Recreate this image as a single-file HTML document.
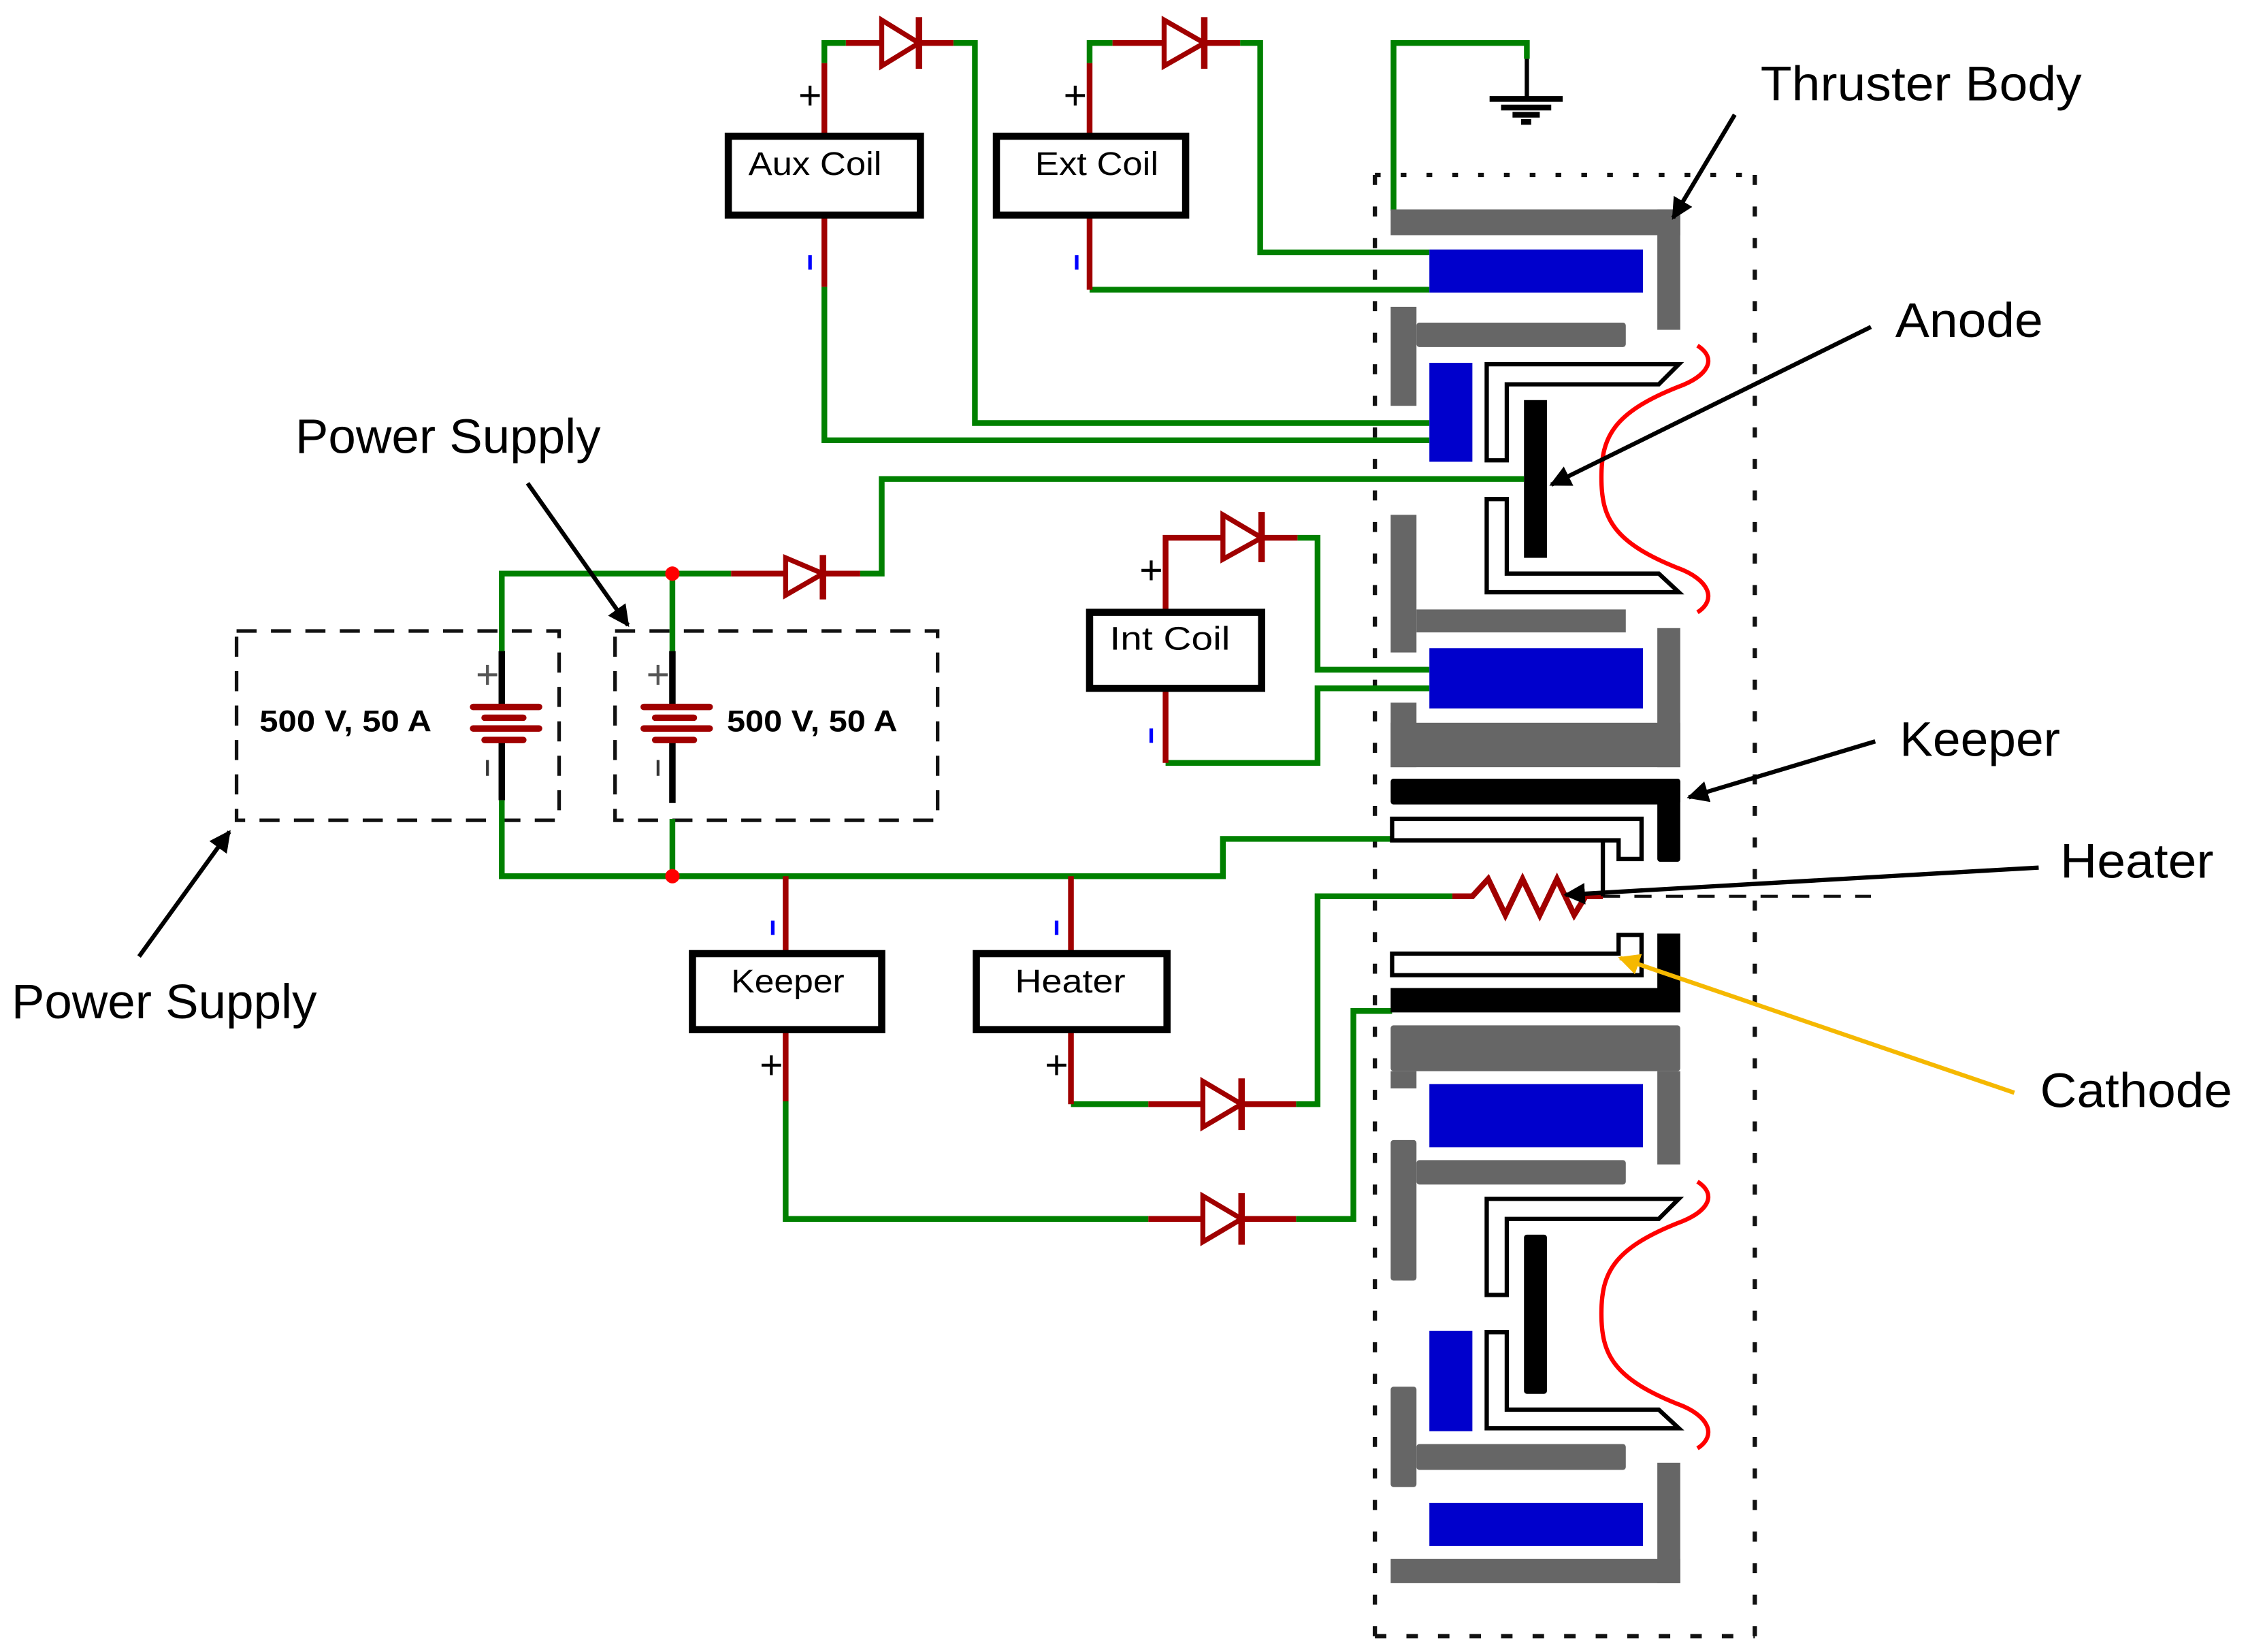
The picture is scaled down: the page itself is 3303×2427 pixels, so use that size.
<!DOCTYPE html>
<html><head><meta charset="utf-8"><style>html,body{margin:0;padding:0;background:#fff}svg{display:block}</style></head><body>
<svg width="3303" height="2427" viewBox="0 0 1568 1152" preserveAspectRatio="none" xmlns="http://www.w3.org/2000/svg">
<defs>
<marker id="ah" viewBox="0 0 10 10" refX="9" refY="5" markerWidth="5" markerHeight="5" orient="auto"><path d="M0,0 L10,5 L0,10 z" fill="#000"/></marker>
<marker id="ahy" viewBox="0 0 10 10" refX="9" refY="5" markerWidth="5" markerHeight="5" orient="auto"><path d="M0,0 L10,5 L0,10 z" fill="#f5b800"/></marker>
</defs>
<rect width="1568" height="1152" fill="#fff"/>
<g fill="none" stroke-linecap="butt">
<rect x="165" y="440" width="225" height="132" stroke="#111" stroke-width="2.5" stroke-dasharray="14,10"/>
<rect x="429" y="440" width="225" height="132" stroke="#111" stroke-width="2.5" stroke-dasharray="14,10"/>
<path d="M959,122 H1224" stroke="#111" stroke-width="3" stroke-dasharray="4,14"/>
<path d="M959,122 V1141 M1224,122 V1141" stroke="#111" stroke-width="3" stroke-dasharray="7,15"/>
<path d="M959,1141 H1224" stroke="#111" stroke-width="3" stroke-dasharray="8,14"/>
<path d="M1118,625 H1305" stroke="#111" stroke-width="2" stroke-dasharray="12,10"/>

<g stroke="#008000" stroke-width="4">
<path d="M972,147 V30 H1065 V41"/>
<path d="M575,44 V30 H590"/>
<path d="M665,30 H680 V295 H997"/>
<path d="M575,200 V307 H997"/>
<path d="M760,44 V30 H776"/>
<path d="M865,30 H879 V176 H997"/>
<path d="M760,202 H997"/>
<path d="M350,454 V400 H510"/>
<path d="M469,454 V400"/>
<path d="M600,400 H615 V334 H1063"/>
<path d="M905,375 H919 V467 H997"/>
<path d="M813,532 H919 V480 H997"/>
<path d="M350,558 V611 H853 V585 H971"/>
<path d="M469,571 V611"/>
<path d="M548,768 V850 H801"/>
<path d="M904,850 H944 V705 H971"/>
<path d="M747,770 H801"/>
<path d="M904,770 H919 V625 H1013"/>
</g>
<g stroke="#a00000" stroke-width="4">
<path d="M575,95 V44"/><path d="M590,30 H615"/><path d="M641,30 H665"/>
<path d="M575,151 V200"/>
<path d="M760,95 V44"/><path d="M776,30 H812"/><path d="M840,30 H865"/>
<path d="M760,151 V202"/>
<path d="M510,400 H548"/><path d="M574,400 H600"/>
<path d="M813,425 V375 H852"/><path d="M880,375 H905"/>
<path d="M813,481 V532"/>
<path d="M548,611 V663"/><path d="M548,720 V768"/>
<path d="M747,611 V663"/><path d="M747,720 V770"/>
<path d="M801,770 H839"/><path d="M866,770 H904"/>
<path d="M801,850 H839"/><path d="M866,850 H904"/>
<path d="M1013,625 H1027 L1038,613 L1050,638 L1062,613 L1074,638 L1086,613 L1098,638 L1106,625 H1118"/>
</g>
<g stroke="#a00000" stroke-width="3.5" fill="#fff">
<path d="M615,14 L641,30 L615,46 Z"/><path d="M641,12 V48" stroke-width="4.5"/>
<path d="M812,14 L840,30 L812,46 Z"/><path d="M840,12 V48" stroke-width="4.5"/>
<path d="M548,389 L574,400 L548,415 Z"/><path d="M574,387 V418" stroke-width="4.5"/>
<path d="M853,359 L880,375 L853,390 Z"/><path d="M880,357 V392" stroke-width="4.5"/>
<path d="M839,754 L866,770 L839,786 Z"/><path d="M866,752 V788" stroke-width="4.5"/>
<path d="M839,834 L866,850 L839,866 Z"/><path d="M866,832 V868" stroke-width="4.5"/>
</g>
<g stroke="#000" stroke-width="4.5">
<path d="M350,454 V493"/><path d="M350,516 V558"/>
<path d="M469,454 V493"/><path d="M469,516 V560"/>
</g>
<g stroke="#a00000" stroke-width="4.5" stroke-linecap="round">
<path d="M330,493 H376"/><path d="M338,500.5 H365"/><path d="M330,508 H376"/><path d="M338,516 H365"/>
<path d="M449,493 H495"/><path d="M457,500.5 H484"/><path d="M449,508 H495"/><path d="M457,516 H484"/>
</g>
<g stroke="#000">
<path d="M1065,41 V68" stroke-width="3"/>
<path d="M1039,69 H1090" stroke-width="4"/>
<path d="M1047,75 H1082" stroke-width="4"/>
<path d="M1055,80 H1074" stroke-width="4"/>
<path d="M1061,85 H1068" stroke-width="4"/>
</g>
<g stroke="#000" stroke-width="5" fill="#fff">
<rect x="508" y="95" width="134" height="55"/>
<rect x="695" y="95" width="132" height="55"/>
<rect x="760" y="427" width="120" height="53"/>
<rect x="483" y="665" width="132" height="53"/>
<rect x="681" y="665" width="133" height="53"/>
</g>
</g>
<circle cx="469" cy="400" r="5" fill="#f00"/>
<circle cx="469" cy="611" r="5" fill="#f00"/>

<g fill="#666">
<rect x="970" y="146" width="202" height="18"/><rect x="1156" y="146" width="16" height="84"/>
<rect x="970" y="214" width="18" height="69"/><rect x="988" y="225" width="146" height="17" rx="2"/>
<rect x="970" y="359" width="18" height="96"/><rect x="988" y="425" width="146" height="16"/>
<rect x="1156" y="438" width="16" height="97"/><rect x="970" y="504" width="202" height="31"/><rect x="970" y="490" width="18" height="45"/>
<rect x="970" y="715" width="202" height="32" rx="2"/><rect x="970" y="747" width="18" height="12"/><rect x="1156" y="747" width="16" height="65"/>
<rect x="970" y="795" width="18" height="98" rx="2"/><rect x="988" y="809" width="146" height="17" rx="2"/>
<rect x="970" y="967" width="18" height="70" rx="2"/><rect x="988" y="1007" width="146" height="18" rx="2"/>
<rect x="1156" y="1020" width="16" height="84"/><rect x="970" y="1087" width="202" height="17"/>
</g>
<g fill="#0000cc">
<rect x="997" y="174" width="149" height="30"/>
<rect x="997" y="253" width="30" height="69"/>
<rect x="997" y="452" width="149" height="42"/>
<rect x="997" y="756" width="149" height="44"/>
<rect x="997" y="928" width="30" height="70"/>
<rect x="997" y="1048" width="149" height="30"/>
</g>
<g fill="#fff" stroke="#000" stroke-width="3" stroke-linejoin="miter">
<path d="M1037,254 H1171 L1157,268 H1051 V321 H1037 Z"/>
<path d="M1037,348 H1051 V400 H1157 L1171,413 H1037 Z"/>
<path d="M1037,836 H1171 L1157,850 H1051 V903 H1037 Z"/>
<path d="M1037,929 H1051 V983 H1157 L1171,996 H1037 Z"/>
<path d="M971,571 H1145 V599 H1129 V586 H971 Z"/>
<path d="M971,665 H1129 V652 H1145 V680 H971 Z"/>
</g>
<g fill="#000">
<rect x="1063" y="279" width="16" height="110"/>
<rect x="1063" y="861" width="16" height="111" rx="2"/>
<rect x="970" y="543" width="202" height="18" rx="2"/><rect x="1156" y="543" width="16" height="58" rx="2"/>
<rect x="1156" y="651" width="16" height="54"/><rect x="970" y="689" width="202" height="17"/>
</g>
<path d="M1118,586 V625" stroke="#000" stroke-width="3"/>
<g fill="none" stroke="#f00" stroke-width="3">
<path d="M1184,241 C1198,250 1192,262 1170,270 C1125,288 1117,305 1117,333 C1117,361 1125,378 1170,396 C1192,404 1198,418 1184,427"/>
<path d="M1184,824 C1198,833 1192,845 1170,853 C1125,871 1117,888 1117,916 C1117,944 1125,961 1170,979 C1192,987 1198,1001 1184,1010"/>
</g>

<g stroke="#000" stroke-width="3" fill="none">
<path d="M1210,80 L1167,152" marker-end="url(#ah)"/>
<path d="M1305,228 L1082,338" marker-end="url(#ah)"/>
<path d="M1308,517 L1178,556" marker-end="url(#ah)"/>
<path d="M1422,605 L1092,624" marker-end="url(#ah)"/>
<path d="M368,337 L438,436" marker-end="url(#ah)"/>
<path d="M97,667 L160,580" marker-end="url(#ah)"/>
</g>
<path d="M1405,762 L1130,668" stroke="#f5b800" stroke-width="3" fill="none" marker-end="url(#ahy)"/>

<g font-family="Liberation Sans, sans-serif" fill="#000">
<text x="1228" y="70" font-size="34" textLength="224" lengthAdjust="spacingAndGlyphs">Thruster Body</text>
<text x="1322" y="235" font-size="34" textLength="103" lengthAdjust="spacingAndGlyphs">Anode</text>
<text x="1325" y="527" font-size="34" textLength="112" lengthAdjust="spacingAndGlyphs">Keeper</text>
<text x="1437" y="612" font-size="34" textLength="107" lengthAdjust="spacingAndGlyphs">Heater</text>
<text x="1423" y="772" font-size="34" textLength="134" lengthAdjust="spacingAndGlyphs">Cathode</text>
<text x="206" y="316" font-size="34" textLength="213" lengthAdjust="spacingAndGlyphs">Power Supply</text>
<text x="8" y="710" font-size="34" textLength="213" lengthAdjust="spacingAndGlyphs">Power Supply</text>
<text x="181" y="510" font-size="21" font-weight="bold" textLength="120" lengthAdjust="spacingAndGlyphs">500 V, 50 A</text>
<text x="507" y="510" font-size="21" font-weight="bold" textLength="119" lengthAdjust="spacingAndGlyphs">500 V, 50 A</text>
<text x="522" y="122" font-size="23" textLength="93" lengthAdjust="spacingAndGlyphs">Aux Coil</text>
<text x="722" y="122" font-size="23" textLength="86" lengthAdjust="spacingAndGlyphs">Ext Coil</text>
<text x="774" y="453" font-size="23" textLength="84" lengthAdjust="spacingAndGlyphs">Int Coil</text>
<text x="510" y="692" font-size="23" textLength="79" lengthAdjust="spacingAndGlyphs">Keeper</text>
<text x="708" y="692" font-size="23" textLength="77" lengthAdjust="spacingAndGlyphs">Heater</text>
<g font-size="28" text-anchor="middle">
<text x="565" y="76">+</text>
<text x="750" y="76">+</text>
<text x="803" y="407">+</text>
<text x="538" y="752">+</text>
<text x="737" y="752">+</text>
<text x="340" y="480" fill="#555">+</text>
<text x="459" y="480" fill="#555">+</text>
</g>
</g>
<g stroke="#0000ff" stroke-width="2.5">
<path d="M565,178 V188"/><path d="M751,178 V188"/><path d="M803,508 V518"/><path d="M539,642 V652"/><path d="M737,642 V652"/>
</g>
<g stroke="#333" stroke-width="2">
<path d="M340,530 V541"/><path d="M459,530 V541"/>
</g>
</svg>
</body></html>
